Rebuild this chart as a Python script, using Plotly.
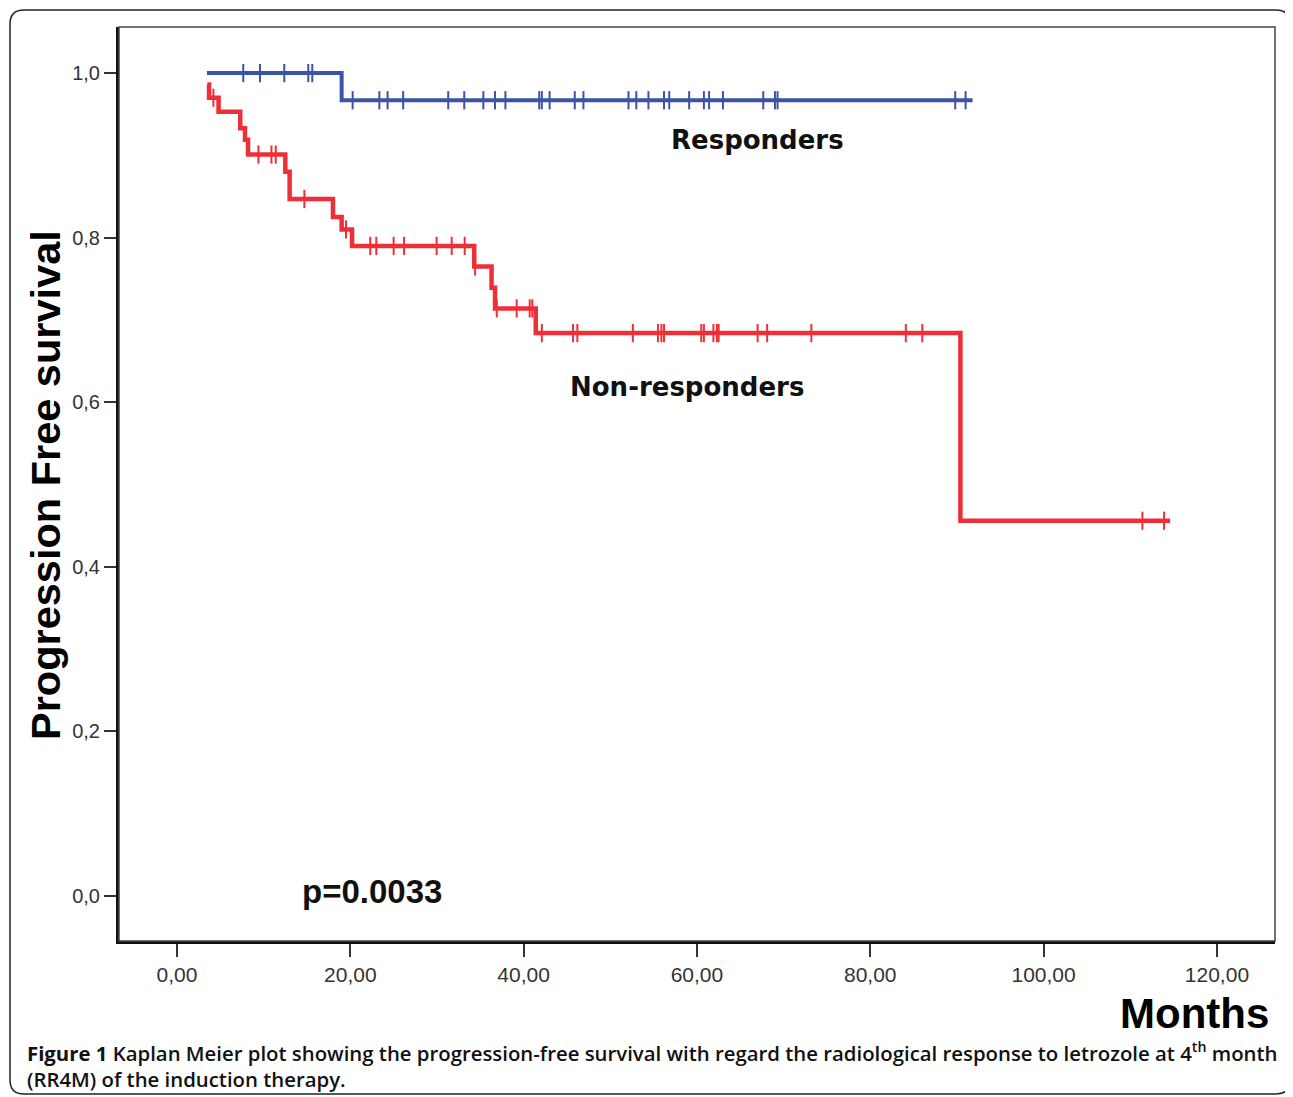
import plotly.graph_objects as go

# ---------------- data ----------------
# Responders (blue): step times (months) and survival after each step
resp_times = [3.46, 19.0]
resp_surv = [1.0, 0.967]
resp_end = 91.8
resp_censor = [7.65, 9.58, 12.38, 15.15, 15.61,
               20.27, 23.35, 24.3, 26.1, 31.3, 33.15, 35.35, 36.7, 37.9,
               41.8, 42.1, 43.0, 45.9, 46.9, 52.1, 53.0, 54.4, 56.2, 56.8,
               59.1, 60.8, 61.4, 63.0, 67.65, 69.0, 69.3, 89.8, 91.0]

# Non-responders (red)
nonresp_times = [3.5, 3.7, 4.8, 7.3, 7.85, 8.2, 12.5, 13.0, 18.0, 19.0, 20.2,
                 34.3, 36.3, 36.7, 41.4, 90.4]
nonresp_surv = [0.986, 0.970, 0.953, 0.933, 0.919, 0.901, 0.880, 0.847, 0.825,
                0.810, 0.790, 0.765, 0.739, 0.714, 0.684, 0.456]
nonresp_end = 114.6
nonresp_censor = [4.2, 9.4, 10.9, 11.4, 14.7, 19.5, 22.3, 23.0, 25.0, 26.2,
                  29.96, 31.7, 33.2, 34.4, 36.9, 39.2, 40.7, 41.0, 42.1, 45.7,
                  46.2, 52.6, 55.5, 55.9, 56.2, 60.5, 60.8, 61.9, 62.3, 62.5,
                  67.0, 68.1, 73.2, 84.1, 86.0, 111.4, 113.9]

x_tickvals = [0, 20, 40, 60, 80, 100, 120]
x_ticktext = ["0,00", "20,00", "40,00", "60,00", "80,00", "100,00", "120,00"]
y_tickvals = [0.0, 0.2, 0.4, 0.6, 0.8, 1.0]
y_ticktext = ["0,0", "0,2", "0,4", "0,6", "0,8", "1,0"]

BLUE = "#3B54A5"
RED = "#EE2F37"


def surv_at(t, times, surv):
    val = surv[0]
    for tt, s in zip(times, surv):
        if t >= tt:
            val = s
    return val


fig = go.Figure()


def add_curve(times, surv, end, censor, color, width):
    fig.add_trace(go.Scatter(
        x=times + [end], y=surv + [surv[-1]], mode="lines",
        line=dict(color=color, width=width, shape="hv"),
        showlegend=False, hoverinfo="skip"))
    fig.add_trace(go.Scatter(
        x=censor, y=[surv_at(c, times, surv) for c in censor], mode="markers",
        marker=dict(symbol="line-ns", size=13,
                    line=dict(color=color, width=2)),
        showlegend=False, hoverinfo="skip"))


add_curve(nonresp_times, nonresp_surv, nonresp_end, nonresp_censor, RED, 4.5)
add_curve(resp_times, resp_surv, resp_end, resp_censor, BLUE, 4)

# page body margin of 8px: figure sized so plot area lands where the reference has it
OFF = 8
W, H = 1293 - OFF, 1097 - OFF
PL, PR, PT, PB = 119, 1275, 27, 941          # plot-area edges in screenshot pixels
L, T = PL - OFF, PT - OFF
R, B = W - (PR - OFF), H - (PB - OFF)
pw, ph = PR - PL, PB - PT


def px(xs):
    return (xs - PL) / pw


def py(ys):
    return (PB - ys) / ph


# outer rounded frame
x0, x1, y0, y1 = px(10), px(1290), py(1094), py(10)
rx, ry = 14 / pw, 14 / ph
path = (f"M {x0+rx},{y1} L {x1-rx},{y1} Q {x1},{y1} {x1},{y1-ry} "
        f"L {x1},{y0+ry} Q {x1},{y0} {x1-rx},{y0} "
        f"L {x0+rx},{y0} Q {x0},{y0} {x0},{y0+ry} "
        f"L {x0},{y1-ry} Q {x0},{y1} {x0+rx},{y1} Z")

shapes = [
    dict(type="path", path=path, xref="paper", yref="paper",
         line=dict(color="#222", width=1.5), layer="below"),
    dict(type="rect", xref="paper", yref="paper", x0=0, x1=1, y0=0, y1=1,
         line=dict(color="#444", width=1.5), layer="above"),
]

CAP_FONT = dict(family="Open Sans", size=20.35, color="#111", weight=600)

annotations = [
    dict(text="<b>Responders</b>", x=67.0, y=0.9185, xref="x", yref="y",
         showarrow=False, font=dict(family="DejaVu Sans", size=26, color="#111")),
    dict(text="<b>Non-responders</b>", x=58.8, y=0.619, xref="x", yref="y",
         showarrow=False, font=dict(family="DejaVu Sans", size=26, color="#111")),
    dict(text="<b>p=0.0033</b>", x=14.2, y=0.006, xref="x", yref="y",
         showarrow=False, xanchor="left",
         font=dict(family="Liberation Sans", size=33, color="#111")),
    dict(text="<b>Months</b>", x=px(1271), y=py(1014), xref="paper", yref="paper",
         xanchor="right", yanchor="middle", showarrow=False,
         font=dict(family="Liberation Sans", size=42, color="#000")),
    dict(text="<b>Progression Free survival</b>", x=px(45), y=py(485),
         xref="paper", yref="paper", textangle=-90, showarrow=False,
         xanchor="center", yanchor="middle",
         font=dict(family="Liberation Sans", size=41.5, color="#000")),
    dict(text="<b>Figure 1</b> Kaplan Meier plot showing the progression-free survival with regard the radiological response to letrozole at 4<sup>th</sup> month",
         x=px(25), y=py(1052), xref="paper", yref="paper", xanchor="left",
         yanchor="middle", showarrow=False, font=CAP_FONT),
    dict(text="(RR4M) of the induction therapy.",
         x=px(25), y=py(1079), xref="paper", yref="paper", xanchor="left",
         yanchor="middle", showarrow=False, font=CAP_FONT),
]

fig.update_layout(
    width=W, height=H,
    margin=dict(l=L, r=R, t=T, b=B, pad=0),
    paper_bgcolor="white", plot_bgcolor="white",
    shapes=shapes, annotations=annotations,
    xaxis=dict(range=[-6.69, 126.7], tickvals=x_tickvals, ticktext=x_ticktext,
               showgrid=False, zeroline=False, showline=True, linecolor="#111",
               linewidth=3, ticks="outside", ticklen=13, tickwidth=1.5,
               tickcolor="#333",
               tickfont=dict(family="Liberation Sans", size=21, color="#333")),
    yaxis=dict(range=[-0.0547, 1.056], tickvals=y_tickvals, ticktext=y_ticktext,
               showgrid=False, zeroline=False, showline=True, linecolor="#111",
               linewidth=3, ticks="outside", ticklen=12, tickwidth=1.5,
               tickcolor="#333",
               tickfont=dict(family="Liberation Sans", size=20, color="#333")),
)

fig.write_html("out.html")
